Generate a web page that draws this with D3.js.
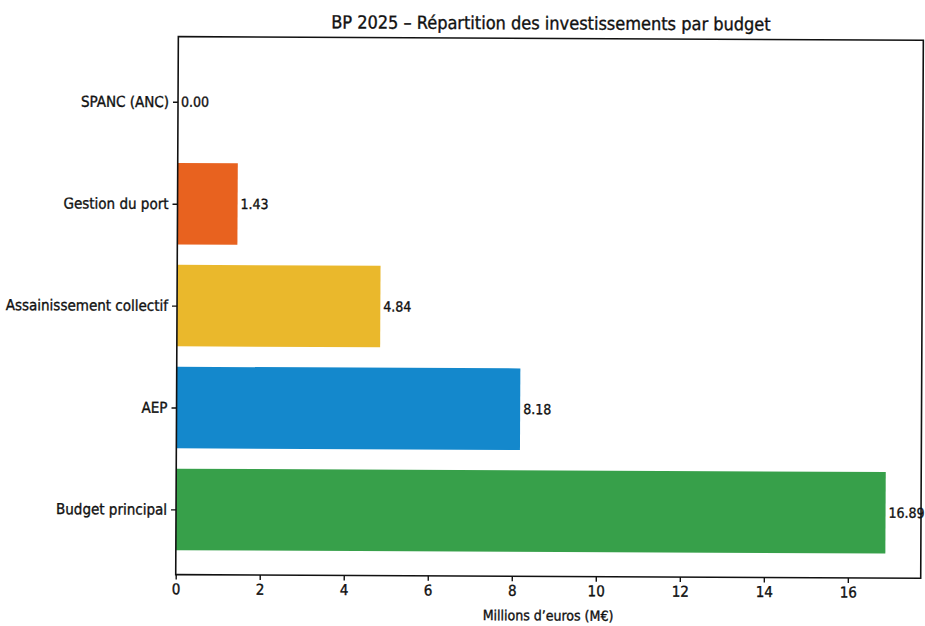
<!DOCTYPE html>
<html><head><meta charset="utf-8">
<script src="https://cdn.jsdelivr.net/npm/d3@7"></script>
<style>
body{margin:0;background:#fff;}
text{font-family:"DejaVu Sans Condensed","DejaVu Sans",sans-serif;fill:#111;stroke:#111;stroke-width:0.35px;}
</style></head>
<body>
<svg id="chart" width="925" height="626"></svg>
<script>
const categories = ["Budget principal","AEP","Assainissement collectif","Gestion du port","SPANC (ANC)"];
const values = [16.89, 8.18, 4.84, 1.43, 0.00];
const colors = ["#37a04a","#1488cc","#eab82c","#e8621f","#8a5fb0"];
const xTicks = [0,2,4,6,8,10,12,14,16];
const title = "BP 2025 – Répartition des investissements par budget";
const xLabel = "Millions d’euros (M€)";

const svg = d3.select("#chart");
const m = {left:177, right:922, top:38, bottom:576};
const g = svg.append("g").attr("transform","rotate(0.28,462,313)");

const xMax = d3.max(values)*1.05;
const x = d3.scaleLinear().domain([0,xMax]).range([m.left,m.right]);
const y = d3.scaleLinear().domain([-0.64,4.64]).range([m.bottom,m.top]);
const bh = y(0)-y(0.8);

g.selectAll("rect.bar").data(values).join("rect").attr("class","bar")
  .attr("x",x(0)).attr("y",(d,i)=>y(i+0.4))
  .attr("width",d=>x(d)-x(0)).attr("height",bh)
  .attr("fill",(d,i)=>colors[i]);

g.selectAll("text.val").data(values).join("text").attr("class","val")
  .attr("x",d=>x(d)+3).attr("y",(d,i)=>y(i)).attr("dy","0.35em")
  .attr("font-size",14).text(d=>d.toFixed(2));

// frame
g.append("rect").attr("x",m.left).attr("y",m.top).attr("width",m.right-m.left)
  .attr("height",m.bottom-m.top).attr("fill","none").attr("stroke","#111").attr("stroke-width",1.6);

const xAxis = g.append("g").attr("transform",`translate(0,${m.bottom})`)
  .call(d3.axisBottom(x).tickValues(xTicks).tickFormat(d3.format("d")).tickSize(5).tickPadding(4));
xAxis.select(".domain").remove();
xAxis.selectAll("text").attr("font-size",15).style("fill","#111");
xAxis.selectAll("line").attr("stroke","#111").attr("stroke-width",1.4);

const yAxis = g.append("g").attr("transform",`translate(${m.left},0)`)
  .call(d3.axisLeft(y).tickValues(d3.range(categories.length)).tickFormat(i=>categories[i]).tickSize(5).tickPadding(4));
yAxis.select(".domain").remove();
yAxis.selectAll("text").attr("font-size",15).style("fill","#111");
yAxis.selectAll("line").attr("stroke","#111").attr("stroke-width",1.4);

g.append("text").attr("x",(m.left+m.right)/2).attr("y",m.top-9)
  .attr("text-anchor","middle").attr("font-size",18).text(title);
g.append("text").attr("x",(m.left+m.right)/2).attr("y",620)
  .attr("text-anchor","middle").attr("font-size",14).text(xLabel);
</script>
</body></html>
